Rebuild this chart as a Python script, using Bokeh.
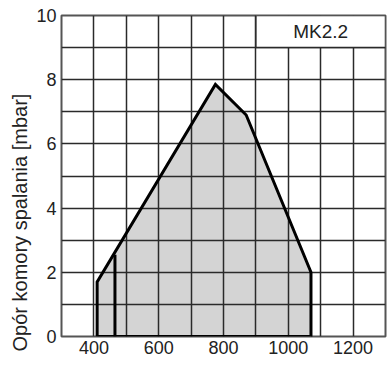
from bokeh.plotting import figure
from bokeh.models import Range1d, FixedTicker, Title
from bokeh.embed import file_html
from bokeh.resources import INLINE

# Data
area_x = [410, 410, 775, 870, 1070, 1070]
area_y = [0, 1.7, 7.85, 6.9, 2.0, 0]
inner_x = [465, 465]
inner_y = [0, 2.55]
x_ticks = [400, 600, 800, 1000, 1200]
y_ticks = [0, 2, 4, 6, 8, 10]
x_grid = list(range(300, 1301, 100))
y_grid = list(range(0, 11, 1))
box_left, box_right, box_bottom, box_top = 900, 1300, 9, 10
model_name = "MK2.2"
y_label = "Opór komory spalania [mbar]"

FONT = "Liberation Sans"
GRID = "#2a2a2a"

p = figure(width=392, height=367, output_backend="svg", toolbar_location=None,
           x_range=Range1d(300, 1300), y_range=Range1d(0, 10),
           min_border_left=61, min_border_right=7, min_border_top=15,
           min_border_bottom=31)

# filled operating area (below grid)
fill = p.patch(area_x, area_y, fill_color="#d4d4d4", line_color=None)
fill.level = "image"

# outline of operating area
p.line(area_x + [area_x[0]], area_y + [area_y[0]], line_color="black", line_width=3,
       line_join="miter")
p.line(inner_x, inner_y, line_color="black", line_width=3)

# model name box
p.quad(left=[box_left], right=[box_right], bottom=[box_bottom], top=[box_top],
       fill_color="white", line_color=GRID, line_width=1.5)
p.text(x=[(box_left + box_right) / 2], y=[(box_bottom + box_top) / 2], text=[model_name],
       text_align="center", text_baseline="middle", text_font_size="19px",
       text_color="#222222", text_font={"value": FONT})

# axes
p.xaxis.ticker = FixedTicker(ticks=x_ticks)
p.yaxis.ticker = FixedTicker(ticks=y_ticks)
p.xgrid.ticker = FixedTicker(ticks=x_grid)
p.ygrid.ticker = FixedTicker(ticks=y_grid)
for g in (p.xgrid, p.ygrid):
    g.grid_line_color = GRID
    g.grid_line_width = 1.5
    g.grid_line_alpha = 1.0

for ax in (p.xaxis, p.yaxis):
    ax.axis_line_color = None
    ax.major_tick_line_color = None
    ax.minor_tick_line_color = None
    ax.major_tick_out = 0
    ax.major_tick_in = 0
    ax.minor_tick_out = 0
    ax.major_label_text_font = FONT
    ax.major_label_text_font_size = "18px"
    ax.major_label_text_color = "#222222"
p.xaxis.major_label_standoff = 4
p.yaxis.major_label_standoff = 5

p.outline_line_color = "#555555"
p.outline_line_width = 2
p.outline_line_alpha = 1.0

# y axis title placed like the original (offset downward)
p.add_layout(Title(text=y_label, align="left", offset=-15, standoff=6,
                   text_font=FONT, text_font_size="20px", text_font_style="normal",
                   text_color="#222222"), "left")

open("out.html", "w").write(file_html(p, INLINE))
